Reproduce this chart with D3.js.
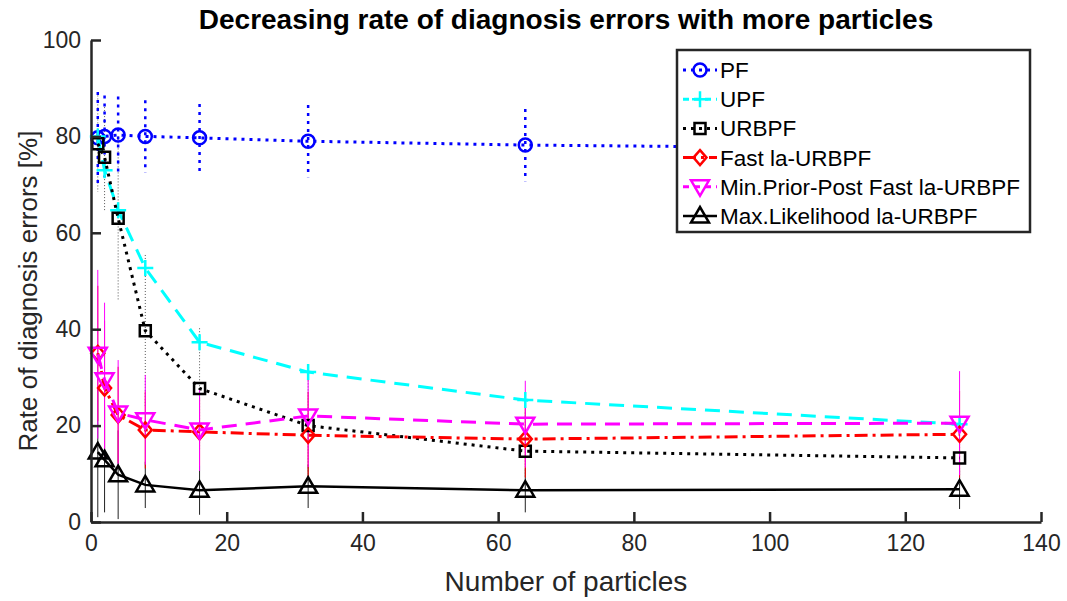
<!DOCTYPE html>
<html>
<head>
<meta charset="utf-8">
<script src="https://cdn.jsdelivr.net/npm/d3@7"></script>
<style>
  body { margin: 0; background: #fff; }
  svg { font-family: "Liberation Sans", Arial, sans-serif; }
</style>
</head>
<body>
<div id="chart"></div>
<script>
// data
const particles = [1, 2, 4, 8, 16, 32, 64, 128];

const pfMean = [79.7, 80, 80.3, 80, 79.7, 79, 78.2, 77.4];
const pfErr = [9.5, 8.5, 8, 7.5, 7, 7.5, 7.5, 7.5];

const upfMean = [80, 73, 64.7, 52.7, 37.3, 31.1, 25.3, 20.3];

const urbpfMean = [78.5, 75.7, 63, 39.7, 27.7, 20, 14.7, 13.3];
const urbpfErr = [10, 11, 17, 15.7, 12.5, 10, 8, 6];

const fastMean = [35, 27.8, 22.2, 19.1, 18.7, 18, 17.2, 18.2];
const fastErr = [14, 14, 10, 8, 7, 9, 8, 9];

const minMean = [34.8, 29.5, 22.6, 21.2, 19.1, 22, 20.3, 20.5];
const minErr = [17.5, 16, 11, 9.3, 8.5, 10.6, 9, 10.8];

const maxMean = [14.5, 12.9, 9.8, 7.7, 6.6, 7.4, 6.6, 6.8];
const maxErr = [13.5, 10.9, 9.2, 4.8, 5.1, 4.5, 4.6, 4.1];

const xTicks = [0, 20, 40, 60, 80, 100, 120, 140];
const yTicks = [0, 20, 40, 60, 80, 100];

const chartTitle = 'Decreasing rate of diagnosis errors with more particles';
const xLabel = 'Number of particles';
const yLabel = 'Rate of diagnosis errors [%]';

const series = [
  { name: 'PF', mean: pfMean, err: pfErr, color: '#0000ff', dash: '3,5', marker: 'circle', barWidth: 2.5, barDash: '3,5' },
  { name: 'UPF', mean: upfMean, err: null, color: '#00ffff', dash: '15,9', marker: 'plus' },
  { name: 'URBPF', mean: urbpfMean, err: urbpfErr, color: '#000000', dash: '3,5', marker: 'square', barWidth: 1, barDash: '1,2', barColor: '#555' },
  { name: 'Fast la-URBPF', mean: fastMean, err: fastErr, color: '#ff0000', dash: '13,5,3,5', marker: 'diamond', barWidth: 1 },
  { name: 'Min.Prior-Post Fast la-URBPF', mean: minMean, err: minErr, color: '#ff00ff', dash: '15,9', marker: 'tridown', barWidth: 1 },
  { name: 'Max.Likelihood la-URBPF', mean: maxMean, err: maxErr, color: '#000000', dash: null, marker: 'triup', barWidth: 1, barColor: '#222' }
];

// bars are drawn under the lines, Max.Likelihood first so magenta sits on top
const barOrder = [5, 2, 3, 4, 0];

const width = 1067, height = 601;
const margin = { top: 40, right: 26, bottom: 79, left: 91 };

const x = d3.scaleLinear().domain([0, 140]).range([margin.left, width - margin.right]);
const y = d3.scaleLinear().domain([0, 100]).range([height - margin.bottom, margin.top]);

function markerPath(type, cx, cy) {
  const p = d3.path();
  if (type === 'circle') {
    p.moveTo(cx + 6.5, cy);
    p.arc(cx, cy, 6.5, 0, 2 * Math.PI);
  } else if (type === 'plus') {
    p.moveTo(cx - 8, cy); p.lineTo(cx + 8, cy);
    p.moveTo(cx, cy - 8); p.lineTo(cx, cy + 8);
  } else if (type === 'square') {
    p.rect(cx - 5.5, cy - 5.5, 11, 11);
  } else if (type === 'diamond') {
    p.moveTo(cx, cy - 7.5); p.lineTo(cx + 6.5, cy); p.lineTo(cx, cy + 7.5); p.lineTo(cx - 6.5, cy); p.closePath();
  } else if (type === 'tridown') {
    p.moveTo(cx - 9, cy - 6.5); p.lineTo(cx + 9, cy - 6.5); p.lineTo(cx, cy + 9); p.closePath();
  } else if (type === 'triup') {
    p.moveTo(cx - 9, cy + 6.5); p.lineTo(cx + 9, cy + 6.5); p.lineTo(cx, cy - 9); p.closePath();
  }
  return p.toString();
}

const svg = d3.select('#chart').append('svg')
  .attr('width', width)
  .attr('height', height);

// error bars
const $bars = svg.append('g').attr('class', 'bars');
barOrder.forEach(i => {
  const s = series[i];
  $bars.append('g')
    .selectAll('line')
    .data(particles.map((p, j) => ({ p, m: s.mean[j], e: s.err[j] })))
    .enter()
    .append('line')
    .attr('x1', d => x(d.p))
    .attr('x2', d => x(d.p))
    .attr('y1', d => y(Math.min(100, d.m + d.e)))
    .attr('y2', d => y(Math.max(0, d.m - d.e)))
    .style('stroke', s.barColor || s.color)
    .style('stroke-width', s.barWidth)
    .style('stroke-dasharray', s.barDash || null);
});

const line = d3.line()
  .x((d, j) => x(particles[j]))
  .y(d => y(d));

series.forEach(s => {
  const g = svg.append('g');
  g.append('path')
    .datum(s.mean)
    .attr('d', line)
    .style('fill', 'none')
    .style('stroke', s.color)
    .style('stroke-width', s.dash ? 3 : 2.5)
    .style('stroke-dasharray', s.dash);

  g.selectAll('path.marker')
    .data(s.mean)
    .enter()
    .append('path')
    .attr('class', 'marker')
    .attr('d', (d, j) => markerPath(s.marker, x(particles[j]), y(d)))
    .style('fill', 'none')
    .style('stroke', s.color)
    .style('stroke-width', 2.5);
});

// axes, MATLAB style: ticks inside, left and bottom only
const axisColor = '#262626';

const $xAxis = svg.append('g')
  .attr('transform', `translate(0,${y(0)})`)
  .call(d3.axisBottom(x).tickValues(xTicks).tickSizeInner(-10).tickSizeOuter(0).tickPadding(13));

const $yAxis = svg.append('g')
  .attr('transform', `translate(${x(0)},0)`)
  .call(d3.axisLeft(y).tickValues(yTicks).tickSizeInner(-10).tickSizeOuter(0).tickPadding(10));

[$xAxis, $yAxis].forEach(a => {
  a.select('.domain').style('stroke', axisColor).style('stroke-width', 2.5);
  a.selectAll('.tick line').style('stroke', axisColor).style('stroke-width', 2.5);
  a.selectAll('.tick text')
    .style('fill', axisColor)
    .style('font-size', '23px')
    .style('font-family', '"Liberation Sans", Arial, sans-serif');
});

svg.append('text')
  .attr('x', (x(0) + x(140)) / 2)
  .attr('y', 591)
  .attr('text-anchor', 'middle')
  .style('font-size', '28px')
  .style('fill', axisColor)
  .text(xLabel);

svg.append('text')
  .attr('transform', `translate(37,${(y(0) + y(100)) / 2 + 10}) rotate(-90)`)
  .attr('text-anchor', 'middle')
  .style('font-size', '26px')
  .style('fill', axisColor)
  .text(yLabel);

svg.append('text')
  .attr('x', (x(0) + x(140)) / 2)
  .attr('y', 29)
  .attr('text-anchor', 'middle')
  .style('font-size', '28px')
  .style('font-weight', 'bold')
  .text(chartTitle);

// legend
const legend = svg.append('g').attr('transform', 'translate(677,50)');
legend.append('rect')
  .attr('width', 353)
  .attr('height', 182)
  .style('fill', '#fff')
  .style('stroke', axisColor)
  .style('stroke-width', 2.5);

series.forEach((s, i) => {
  const ly = 20 + i * 29.2;
  legend.append('line')
    .attr('x1', 6).attr('x2', 40)
    .attr('y1', ly).attr('y2', ly)
    .style('stroke', s.color)
    .style('stroke-width', s.dash ? 3 : 2.5)
    .style('stroke-dasharray', s.dash === '15,9' ? '6,5' : s.dash);
  legend.append('path')
    .attr('d', markerPath(s.marker, 23, ly))
    .style('fill', 'none')
    .style('stroke', s.color)
    .style('stroke-width', 2.5);
  legend.append('text')
    .attr('x', 43)
    .attr('y', ly + 8)
    .style('font-size', '22.5px')
    .text(s.name);
});
</script>
</body>
</html>
